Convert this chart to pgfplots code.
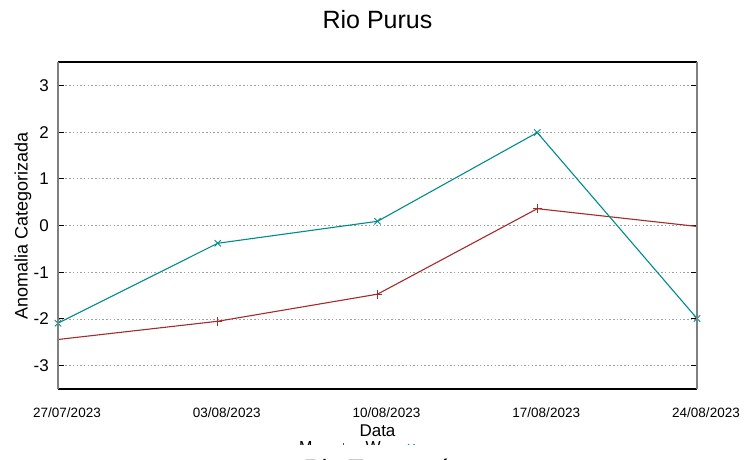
\documentclass[border=0pt]{standalone}
\usepackage{fontspec}
\setmainfont{Liberation Sans}
\usepackage{pgfplots}
\pgfplotsset{compat=1.18}
\definecolor{cred}{HTML}{A52A2A}
\definecolor{cteal}{HTML}{008B8B}
\begin{document}
\begin{tikzpicture}[x=1pt,y=1pt]
\useasboundingbox (0,0) rectangle (752,459);
\begin{axis}[
  name=ax,
  at={(58pt,70pt)}, anchor=south west,
  scale only axis, width=639pt, height=327pt,
  xmin=0, xmax=4, ymin=-3.5, ymax=3.5,
  xtick={0,1,2,3,4},
  xticklabels={27/07/2023,03/08/2023,10/08/2023,17/08/2023,24/08/2023},
  ytick={-3,-2,-1,0,1,2,3},
  /pgf/number format/assume math mode=true,
  xticklabel style={font=\fontsize{13.5}{15}\selectfont, anchor=base, yshift=-28pt, xshift=9pt},
  yticklabel style={font=\fontsize{17}{19}\selectfont, anchor=east, inner sep=0pt, xshift=-9pt},
  xtick style={draw=none},
  ytick style={black, line width=1pt},
  tick align=inside, major tick length=6pt,
  ymajorgrids,
  grid style={gray!75, dash pattern=on 1.5pt off 2.2pt, line width=0.8pt},
  axis line style={draw=none},
  title={Rio Purus},
  title style={font=\fontsize{25}{28}\selectfont, at={(axis description cs:0.5,1)}, anchor=base, yshift=28pt},
  xlabel={Data},
  every axis x label/.style={at={(axis description cs:0.5,0)}, anchor=base, yshift=-47pt, font=\fontsize{17}{19}\selectfont},
  ylabel={Anomalia Categorizada},
  every axis y label/.style={at={(axis description cs:0,0.5)}, rotate=90, anchor=center, yshift=35pt, font=\fontsize{18}{20}\selectfont},
  legend columns=2,
  legend plot pos=right,
  legend cell align=right,
  legend style={at={(axis description cs:0.5,0)}, anchor=north, yshift=-48pt, xshift=-13pt, draw=none, fill=none, font=\fontsize{16}{18}\selectfont, /tikz/every odd column/.append style={column sep=8pt}},
  legend image code/.code={\draw[mark repeat=2,mark phase=2] plot coordinates {(0pt,0pt)(20pt,0pt)(40pt,0pt)};},
]
\addplot[forget plot, cred, line width=1.1pt, mark=+, mark size=4.5pt, mark indices={2,3,4}, mark options={solid, line width=0.9pt}]
  coordinates {(0,-2.44) (1,-2.05) (2,-1.47) (3,0.36) (4,-0.02)};
\addplot[forget plot, cteal, line width=1.1pt, mark=x, mark size=4.5pt, mark options={solid, line width=0.9pt}]
  coordinates {(0,-2.09) (1,-0.38) (2,0.09) (3,1.99) (4,-1.99)};
\addlegendimage{cred, line width=1.1pt, mark=+, mark size=4.5pt}
\addlegendentry{M}
\addlegendimage{cteal, line width=1.1pt, mark=x, mark size=4.5pt}
\addlegendentry{W}
\end{axis}
\draw[black, line width=1.2pt] (ax.south west) -- (ax.south east);
\draw[black, line width=1.2pt] (ax.north west) -- (ax.north east);
\draw[gray, line width=1.8pt] (ax.south west) -- (ax.north west);
\draw[gray, line width=1.8pt] (ax.south east) -- (ax.north east);
\fill[white] (0,0) rectangle (752,14);
\node[anchor=base, font=\fontsize{25}{28}\selectfont, inner sep=0pt] at (377.5,-18) {Rio Tarauacá};
\end{tikzpicture}
\end{document}
